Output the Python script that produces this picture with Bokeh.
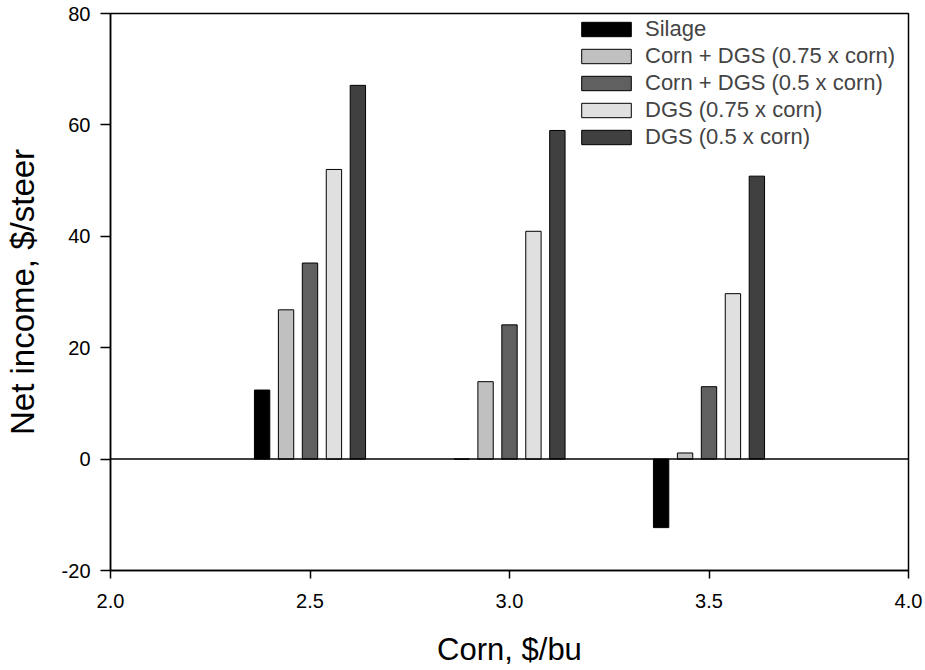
from bokeh.plotting import figure
from bokeh.models import ColumnDataSource, FixedTicker, Span, Range1d, Legend, LegendItem, NumeralTickFormatter
from bokeh.transform import dodge
from bokeh.embed import file_html
from bokeh.resources import INLINE

corn_price = [2.5, 3.0, 3.5]
silage = [12.4, 0.0, -12.3]
corn_dgs_075 = [26.8, 13.9, 1.1]
corn_dgs_05 = [35.2, 24.1, 13.0]
dgs_075 = [52.0, 40.9, 29.7]
dgs_05 = [67.1, 59.0, 50.8]
series_names = ["Silage", "Corn + DGS (0.75 x corn)", "Corn + DGS (0.5 x corn)",
                "DGS (0.75 x corn)", "DGS (0.5 x corn)"]
x_ticks = [2.0, 2.5, 3.0, 3.5, 4.0]
y_ticks = [-20, 0, 20, 40, 60, 80]
y_tick_labels = ["-20", "0", "20", "40", "60", "80"]

src = ColumnDataSource(dict(x=corn_price, s0=silage, s1=corn_dgs_075, s2=corn_dgs_05,
                            s3=dgs_075, s4=dgs_05))

FONT = "Liberation Sans"
p = figure(width=925, height=670, output_backend="svg", toolbar_location=None,
           x_range=Range1d(2.0, 4.0), y_range=Range1d(-20, 80),
           min_border_left=109, min_border_top=13, min_border_right=17, min_border_bottom=100)
p.background_fill_color = "white"
p.border_fill_color = "white"
p.grid.visible = False
p.outline_line_color = "black"
p.outline_line_width = 1.5

colors = ["#000000", "#c0c0c0", "#606060", "#e0e0e0", "#404040"]
offsets = [-0.12, -0.06, 0.0, 0.06, 0.12]
items = []
for i, (name, col, off) in enumerate(zip(series_names, colors, offsets)):
    r = p.vbar(x=dodge("x", off, range=p.x_range), top="s%d" % i, bottom=0, width=0.0385,
               source=src, fill_color=col, line_color="black", line_width=1)
    items.append(LegendItem(label=name, renderers=[r]))

p.add_layout(Span(location=0, dimension="width", line_color="black", line_width=1.5))

leg = Legend(items=items, location="top_right", border_line_color=None,
             background_fill_alpha=0, label_text_font=FONT, label_text_font_size="22px",
             glyph_width=62, glyph_height=18, label_standoff=8, spacing=1,
             padding=4, margin=3, label_height=26, label_width=260)
p.add_layout(leg)

for ax in (p.xaxis[0], p.yaxis[0]):
    ax.axis_line_color = "black"
    ax.axis_line_width = 1.5
    ax.major_tick_line_width = 1.5
    ax.major_tick_in = 0
    ax.minor_tick_line_color = None
    ax.major_label_text_font = FONT
    ax.major_label_text_font_size = "20px"
    ax.major_label_text_color = "black"
    ax.axis_label_text_font = FONT
    ax.axis_label_text_font_style = "normal"
    ax.axis_label_text_color = "black"

p.xaxis.ticker = FixedTicker(ticks=x_ticks)
p.xaxis.formatter = NumeralTickFormatter(format="0.0")
p.xaxis.major_tick_out = 8
p.xaxis.major_label_standoff = 15
p.xaxis.axis_label = "Corn, $/bu"
p.xaxis.axis_label_text_font_size = "31px"
p.xaxis.axis_label_standoff = 21

p.yaxis.ticker = FixedTicker(ticks=y_ticks)
p.yaxis.major_label_overrides = {t: s for t, s in zip(y_ticks, y_tick_labels)}
p.yaxis.major_tick_out = 10
p.yaxis.major_label_standoff = 10
p.yaxis.axis_label = "Net income, $/steer"
p.yaxis.axis_label_text_font_size = "33px"
p.yaxis.axis_label_standoff = 18

open("out.html", "w").write(file_html(p, INLINE))
